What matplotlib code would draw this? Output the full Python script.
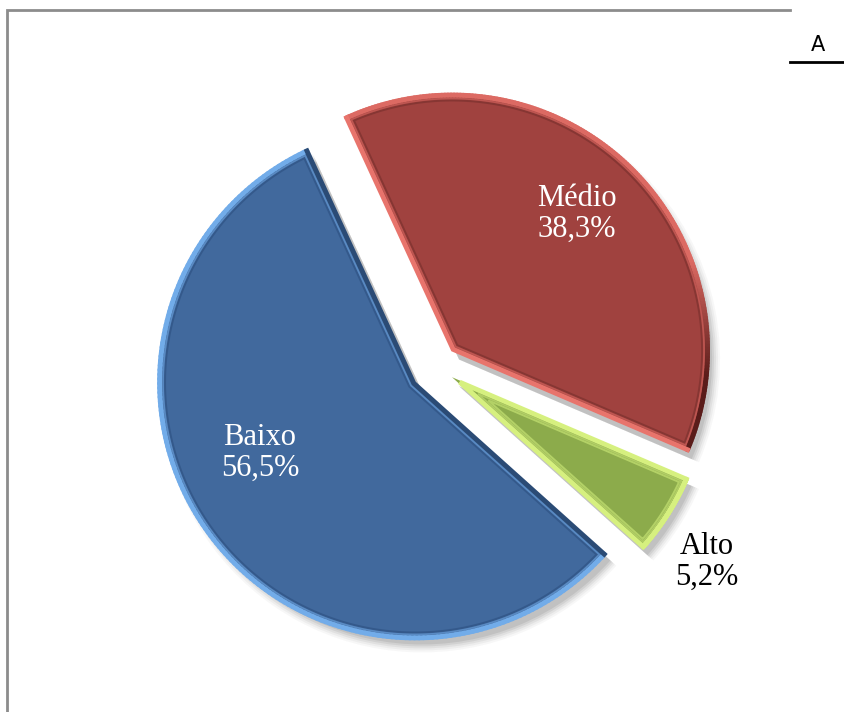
import numpy as np
import matplotlib
matplotlib.use("Agg")
import matplotlib.pyplot as plt
from matplotlib.patches import Wedge, Polygon
from matplotlib.collections import LineCollection
from matplotlib.colors import to_rgb

# data (order as drawn, counter-clockwise)
categories = ["Baixo", "Alto", "Médio"]
shares = [56.5, 5.2, 38.3]
pct_labels = ["56,5%", "5,2%", "38,3%"]

face = ["#41699d", "#8cab4b", "#a0423f"]
arc_col = ["#72ace9", "#d6f07f", "#dc6a63"]
arc_shade = ["#72ace9", "#d6f07f", "#5a1c1a"]   # colour of the arc where it faces right
side_col = ["#2b4b75", "#d6f07f", "#e8746c"]
inner_col = ["#33588a", "#b8d66a", "#843532"]
explode = [26, 19, 23]  # pixels, pie uses absolute offsets when radius != 1

fig = plt.figure(figsize=(8.44, 7.12), dpi=100)
ax = fig.add_axes([0, 0, 1, 1])

cx, cy, R = 436, 345, 257
wedges, _ = ax.pie(shares, explode=explode, colors=face, startangle=114.7,
                   counterclock=True, center=(cx, cy), radius=R, frame=True,
                   wedgeprops=dict(linewidth=0, zorder=3))


def inset_outline(w, d):
    t1, t2 = np.radians(w.theta1), np.radians(w.theta2)
    half = (t2 - t1) / 2
    mid = (t1 + t2) / 2
    shift = d / np.sin(half)
    apex = (w.center[0] + shift * np.cos(mid), w.center[1] + shift * np.sin(mid))
    ri = w.r - d
    dl = np.arcsin(d / ri)
    t = np.linspace(t1 + dl, t2 - dl, 200)
    return apex, t, np.column_stack([w.center[0] + ri * np.cos(t),
                                     w.center[1] + ri * np.sin(t)])


for i, w in enumerate(wedges):
    # soft shadow
    for k, a in enumerate([0.04, 0.05, 0.07, 0.09, 0.11]):
        s = Wedge((w.center[0] + 7, w.center[1] - 9), w.r + 4 - k * 2,
                  w.theta1, w.theta2, facecolor="#404040", edgecolor="none",
                  alpha=a, zorder=1)
        ax.add_patch(s)
    # outer rim: arc (shaded where it faces right) and the two radial sides
    apex, t, arc = inset_outline(w, 1.5)
    light = np.clip((np.sin(t) + 0.1) * 2.2, 0, 1)[:-1]
    c0, c1 = np.array(to_rgb(arc_col[i])), np.array(to_rgb(arc_shade[i]))
    cols = light[:, None] * c0 + (1 - light[:, None]) * c1
    segs = np.stack([arc[:-1], arc[1:]], axis=1)
    ax.add_collection(LineCollection(segs, colors=cols, linewidths=3.5, zorder=4,
                                     capstyle="round"))
    ax.plot([arc[0, 0], apex[0], arc[-1, 0]], [arc[0, 1], apex[1], arc[-1, 1]],
            color=side_col[i], linewidth=3.5, zorder=4, solid_joinstyle="miter")
    # inner bevel line
    apex, t, arc = inset_outline(w, 7)
    ax.add_patch(Polygon(np.vstack([[apex], arc]), closed=True, facecolor="none",
                         edgecolor=inner_col[i], linewidth=1.4, alpha=0.9, zorder=4))
    apex, t, arc = inset_outline(w, 5)
    ax.add_patch(Polygon(np.vstack([[apex], arc]), closed=True, facecolor="none",
                         edgecolor=arc_col[i], linewidth=1.2, alpha=0.5, zorder=4))

serif = ["Liberation Serif", "DejaVu Serif"]
ax.text(260, 712 - 453, "Baixo\n" + pct_labels[0], color="white", fontsize=22,
        family=serif, ha="center", va="center", linespacing=1.05, zorder=6)
ax.text(577, 712 - 214, "Médio\n" + pct_labels[2], color="white", fontsize=22,
        family=serif, ha="center", va="center", linespacing=1.05, zorder=6)
ax.text(707, 712 - 562, "Alto\n" + pct_labels[1], color="black", fontsize=22,
        family=serif, ha="center", va="center", linespacing=1.05, zorder=6)

# frame lines and corner mark
ax.plot([7, 7, 790], [0, 702, 702], color="#8c8c8c", linewidth=2, zorder=2,
        solid_joinstyle="miter")
ax.plot([790, 844], [650, 650], color="black", linewidth=2)
ax.text(818, 712 - 45, "A", fontsize=15, family="DejaVu Sans",
        ha="center", va="center", color="black")

ax.set_xlim(0, 844)
ax.set_ylim(0, 712)
ax.set_aspect("equal")
ax.axis("off")

fig.savefig("out.png", dpi=100, facecolor="white")
